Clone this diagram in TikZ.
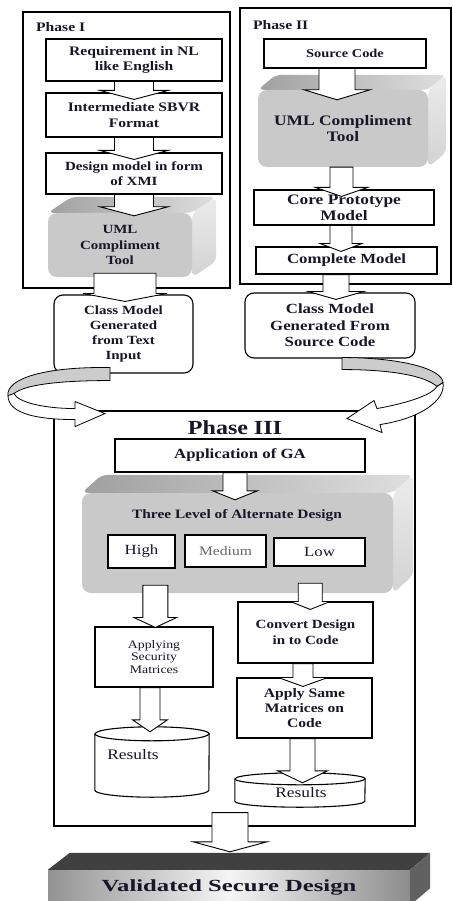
\documentclass[tikz,border=0pt]{standalone}
\usepackage{fontspec}
\setmainfont[FakeStretch=1.2]{Liberation Serif}
\newfontfamily\wideserif[FakeStretch=1.45]{Liberation Serif}
\usepackage{tikz}
\usetikzlibrary{calc,backgrounds}

\definecolor{ink}{RGB}{25,20,40}
\newcommand{\sz}[2]{\fontsize{#1pt}{#2pt}\selectfont}

% hollow block arrow: [style] start, tip, shaft half width, head half width, head length
\newcommand{\harrow}[6][]{%
  \draw[harr,#1] let \p1=#2, \p2=#3 in
    (\x1-#4pt,\y1) -- (\x1+#4pt,\y1) -- (\x1+#4pt,\y2+#6pt) -- (\x1+#5pt,\y2+#6pt)
    -- (\x1,\y2) -- (\x1-#5pt,\y2+#6pt) -- (\x1-#4pt,\y2+#6pt) -- cycle;}

% top and side faces behind a grey block
\newcommand{\extrude}[3]{%
  \begin{scope}[on background layer]
    \shade[topface] (#1.north west) -- ($(#1.north west)+(#2,#3)$) -- ($(#1.north east)+(#2,#3)$) -- (#1.north east) -- cycle;
    \shade[sideface] (#1.north east) -- ($(#1.north east)+(#2,#3)$) -- ($(#1.south east)+(#2,#3)$) -- (#1.south east) -- cycle;
  \end{scope}}

\begin{document}
\begin{tikzpicture}[x=1pt,y=-1pt,
  frame/.style={draw=black,line width=1.1pt,inner sep=0pt},
  box/.style={draw=black,line width=1.1pt,fill=white,inner sep=0pt,align=center,text=ink},
  roundbox/.style={box,rounded corners=9pt},
  solid3d/.style={fill=gray!42,rounded corners=9pt,inner sep=0pt,align=center,text=ink},
  topface/.style={left color=gray!75,right color=gray!25,rounded corners=6pt},
  sideface/.style={top color=gray!15,bottom color=gray!35,rounded corners=6pt},
  title/.style={text=ink,font=\bfseries\sz{13}{15},inner sep=0pt,anchor=west},
  harr/.style={draw=black,line width=0.9pt,fill=white,line join=miter},
  cyl/.style={draw=black,line width=1.1pt,fill=white},
  twist/.style={draw=black,line width=0.8pt}]
\useasboundingbox (0,0) rectangle (452,901);
\clip (0,0) rectangle (452,901);

% phase frames
\node[frame,minimum width=207pt,minimum height=276pt] (p1) at (126.5,150) {};
\node[frame,minimum width=211pt,minimum height=276pt] (p2) at (345.5,146) {};
\node[frame,minimum width=361pt,minimum height=415pt] (p3) at (234.5,618.5) {};
\node[title] (p1title) at (36,27) {Phase I};
\node[title] (p2title) at (253,25) {Phase II};
\node[text=ink,font=\bfseries\sz{20}{24}] (p3title) at (235,428) {Phase III};

% phase I
\node[box,minimum width=176pt,minimum height=42pt,font=\bfseries\sz{13}{15}] (req) at (134,60) {Requirement in NL\\like English};
\node[box,minimum width=176pt,minimum height=44pt,font=\bfseries\sz{13}{16}] (int) at (134,115) {Intermediate SBVR\\Format};
\node[box,minimum width=176pt,minimum height=41pt,font=\bfseries\sz{12.5}{15}] (des) at (134,173.5) {Design model in form\\of XMI};
\node[solid3d,minimum width=144pt,minimum height=64pt,font=\bfseries\sz{12.5}{15.5}] (uml1) at (120,245) {UML\\Compliment\\Tool};
\extrude{uml1}{24}{-16}
\node[roundbox,minimum width=139pt,minimum height=78pt,font=\bfseries\sz{12.5}{15}] (classT) at (123.5,334) {Class Model\\Generated\\from Text\\Input};

% phase II
\node[box,minimum width=162pt,minimum height=29pt,font=\bfseries\sz{12}{14}] (src) at (345,53.5) {Source Code};
\node[solid3d,minimum width=170pt,minimum height=77pt,font=\bfseries\sz{14.5}{16}] (uml2) at (343,128.5) {UML Compliment\\Tool};
\extrude{uml2}{18}{-15}
\node[box,minimum width=180pt,minimum height=35pt,font=\bfseries\sz{14.5}{16}] (core) at (344,207.5) {Core Prototype\\Model};
\node[box,minimum width=181pt,minimum height=27pt,font=\bfseries\sz{14}{16}] (comp) at (346.5,260.5) {Complete Model};
\node[roundbox,minimum width=170pt,minimum height=65pt,font=\bfseries\sz{14}{16.5}] (classS) at (330,325.5) {Class Model\\Generated From\\Source Code};

% phase III
\node[box,minimum width=250pt,minimum height=33pt,font=\bfseries\sz{14}{16}] (app) at (240,455.5) {Application of GA};
\node[solid3d,minimum width=311pt,minimum height=100pt] (three) at (237.5,543) {};
\extrude{three}{20}{-18}
\node[text=ink,font=\bfseries\sz{12.8}{15}] (threetitle) at (237,515) {Three Level of Alternate Design};
\node[box,minimum width=67pt,minimum height=33pt,font=\sz{14}{16}] (high) at (141.5,551.5) {High};
\node[box,minimum width=81pt,minimum height=32pt,font=\sz{13}{15},text=black!60] (med) at (225.5,551) {Medium};
\node[box,minimum width=91pt,minimum height=28pt,font=\sz{14}{16}] (low) at (319.5,552) {Low};
\node[box,minimum width=118pt,minimum height=60pt,font=\sz{11.5}{12.5}] (applying) at (154,657) {Applying\\Security\\Matrices};
\node[box,minimum width=135pt,minimum height=61pt,font=\bfseries\sz{12.5}{16}] (conv) at (305.5,632.5) {Convert Design\\in to Code};
\node[box,minimum width=135pt,minimum height=60pt,font=\bfseries\sz{13}{15}] (apply) at (304.5,708) {Apply Same\\Matrices on\\Code};

% result stores
\node[inner sep=0pt,minimum width=114pt,minimum height=56pt] (res1) at (152,762) {};
\filldraw[cyl] (res1.north west) -- (res1.south west) arc[start angle=180,end angle=360,x radius=57pt,y radius=7pt]
  -- (res1.north east) arc[start angle=0,end angle=180,x radius=57pt,y radius=7pt] -- cycle;
\draw[cyl,fill=none] (res1.north west) arc[start angle=180,end angle=360,x radius=57pt,y radius=7pt];
\node[text=ink,font=\sz{14.5}{16}] (res1txt) at ($(res1.center)+(-19,-7)$) {Results};
\node[inner sep=0pt,minimum width=130pt,minimum height=22pt,text=ink,font=\sz{14.5}{16}] (res2) at (300,790) {};
\filldraw[cyl] (res2.north west) -- (res2.south west) arc[start angle=180,end angle=360,x radius=65pt,y radius=6pt]
  -- (res2.north east) arc[start angle=0,end angle=180,x radius=65pt,y radius=6pt] -- cycle;
\draw[cyl,fill=none] (res2.north west) arc[start angle=180,end angle=360,x radius=65pt,y radius=6pt];
\node[text=ink,font=\sz{14.5}{16}] (res2txt) at ($(res2.center)+(1,3)$) {Results};

% block arrows
\harrow{(req.south)}{($(int.north)+(0,7)$)}{19.5}{34}{9}
\harrow{(int.south)}{($(des.north)+(0,7)$)}{19.5}{34}{9}
\harrow{(des.south)}{($(uml1.north)+(0,3)$)}{19.5}{34}{9}
\harrow{($(uml1.south)+(5,-4)$)}{($(classT.north)+(0,7)$)}{31}{42}{8}
\harrow{($(src.south)+(-8,0)$)}{($(uml2.north)+(0,10)$)}{18}{33}{10}
\harrow{($(uml2.south)+(-1.5,0)$)}{($(core.north)+(0,7)$)}{11.5}{26}{9}
\harrow{($(core.south)+(-3,0)$)}{($(comp.north)+(0,5)$)}{11}{21}{8}
\harrow{($(comp.south)+(-10.5,0)$)}{($(classS.north)+(0,7)$)}{13}{28}{8}
\harrow{($(app.south)+(-5,0)$)}{($(three.north)+(0,7)$)}{12}{22.5}{9}
\harrow{($(three.south west)+(73.5,-8)$)}{($(applying.north)+(0,1)$)}{12.5}{21.5}{10}
\harrow{($(three.south east)+(-83,-10)$)}{($(conv.north)+(0,8)$)}{12}{20}{8}
\harrow{($(conv.south)+(-2.5,0)$)}{($(apply.north)+(0,9)$)}{10}{25}{9}
\harrow{($(applying.south)+(-4,0)$)}{($(res1.north)+(0,-2)$)}{10}{17.5}{12}
\harrow{($(apply.south)+(-2,0)$)}{($(res2.north)+(0,4)$)}{12.5}{25}{12}

% twisted arrows into phase III
\begin{scope}[shift={(classT.south)}]
  \filldraw[twist,fill=gray!40] (-13.5,-6) .. controls (-78.5,-7) and (-117.5,5) .. (-115.5,22)
    .. controls (-113.5,25) and (-111.5,23) .. (-109.5,20) .. controls (-98.5,11) and (-63.5,7) .. (-13.5,7) -- cycle;
  \filldraw[twist,fill=white] (-115.5,22) .. controls (-115.5,41) and (-83.5,46) .. (-48.5,46) -- (-48.5,53) -- (-18.5,40)
    -- (-48.5,28) -- (-48.5,35) .. controls (-78.5,35) and (-105.5,29) .. (-109.5,20) -- cycle;
\end{scope}
\begin{scope}[shift={(classS.south)}]
  \filldraw[twist,fill=gray!40] (12,-1) .. controls (70,-1) and (112,10) .. (113,24) -- (107,28)
    .. controls (95,17) and (60,11) .. (12,11) -- cycle;
  \filldraw[twist,fill=white] (113,24) .. controls (116,42) and (90,60) .. (50,66) -- (52,74) -- (17,60)
    -- (44,42) -- (47,50) .. controls (80,44) and (102,36) .. (107,28) -- cycle;
\end{scope}

% validated design slab
\node[inner sep=0pt,minimum width=362pt,minimum height=35pt,left color=gray!85,right color=gray!90,middle color=gray!8,
  text=ink,font=\wideserif\bfseries\sz{17}{20}] (valid) at (229,887.5) {Validated Secure Design};
\fill[black!75] (valid.north west) -- ++(22,-17) -- ($(valid.north east)+(20,-17)$) -- (valid.north east) -- cycle;
\fill[black!62] (valid.north east) -- ++(20,-17) -- ($(valid.south east)+(20,-17)$) -- (valid.south east) -- cycle;
\harrow[draw=none,fill=gray!40,xshift=7pt]{($(p3.south)+(-4.5,-14)$)}{($(valid.north)+(0,-18)$)}{18}{37}{10}
\harrow{($(p3.south)+(-4.5,-14)$)}{($(valid.north)+(0,-18)$)}{18}{37}{10}
\end{tikzpicture}
\end{document}
